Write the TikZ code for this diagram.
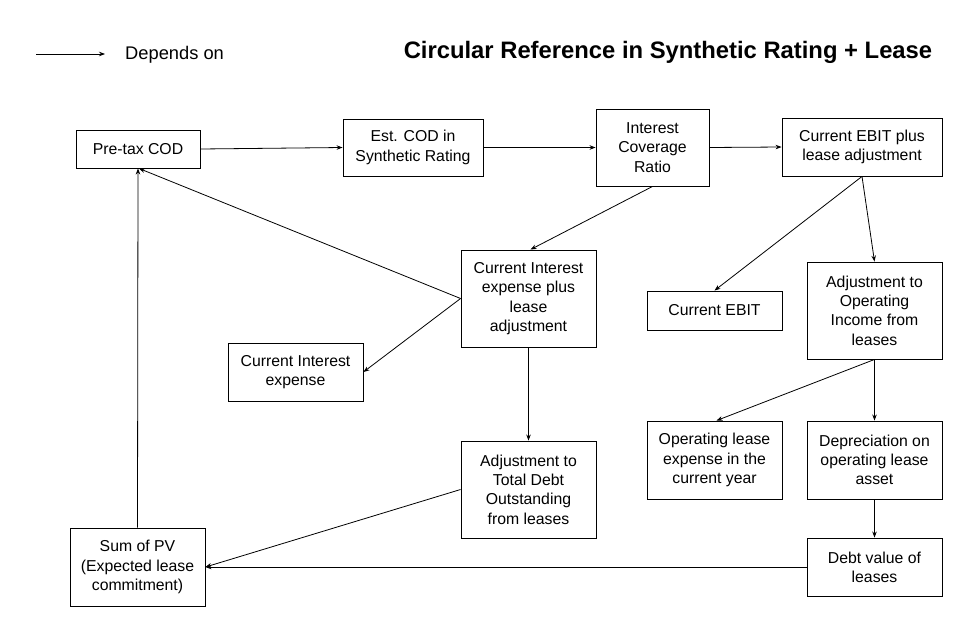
\documentclass[tikz,border=0pt]{standalone}
\usepackage{fontspec}
\setmainfont{Liberation Sans}
\usetikzlibrary{arrows.meta}
\begin{document}
\begin{tikzpicture}[x=1pt,y=-1pt,
  box/.style={draw=black,line width=0.9pt,rectangle,inner sep=0pt,align=center,
    font=\fontsize{15.8}{19.3}\selectfont},
  dep/.style={draw=black,line width=0.8pt,-{Stealth[length=6pt,width=4.5pt]}}]
\useasboundingbox[fill=white] (0,0) rectangle (958,635);
% legend and title
\coordinate (la) at (36,54);
\coordinate (lb) at (105,54);
\draw[dep] (la) -- (lb);
\node[font=\fontsize{18.3}{22}\selectfont,anchor=west,inner sep=0pt] (legend) at (125,55) {Depends on};
\node[font=\fontsize{23.8}{28}\selectfont\bfseries,inner sep=0pt] (title) at (668,52) {Circular Reference in Synthetic Rating + Lease};
% boxes
\node[box,minimum width=124,minimum height=38] (pretax) at (138,149) {Pre-tax COD};
\node[box,minimum width=140,minimum height=57] (estcod) at (413,147.5) {Est. COD in\\Synthetic Rating};
\node[box,minimum width=113,minimum height=77] (icr) at (652.5,147.5) {Interest\\Coverage\\Ratio};
\node[box,minimum width=160,minimum height=58] (ebitl) at (862,147) {Current EBIT plus\\lease adjustment};
\node[box,minimum width=135,minimum height=97] (ciepl) at (528.5,298.5) {Current Interest\\expense plus\\lease\\adjustment};
\node[box,minimum width=135,minimum height=39] (cebit) at (714.5,310.5) {Current EBIT};
\node[box,minimum width=135,minimum height=97] (adjoi) at (874.5,310.5) {Adjustment to\\Operating\\Income from\\leases};
\node[box,minimum width=135,minimum height=58] (cie) at (295.5,372) {Current Interest\\expense};
\node[box,minimum width=135,minimum height=97] (adjtd) at (528.5,489.5) {Adjustment to\\Total Debt\\Outstanding\\from leases};
\node[box,minimum width=135,minimum height=78] (olexp) at (714.5,460) {Operating lease\\expense in the\\current year};
\node[box,minimum width=135,minimum height=78] (depr) at (874.5,460) {Depreciation on\\operating lease\\asset};
\node[box,minimum width=135,minimum height=78] (sumpv) at (137.5,567) {Sum of PV\\(Expected lease\\commitment)};
\node[box,minimum width=135,minimum height=58] (debtv) at (874.5,567) {Debt value of\\leases};
% connectors
\draw[dep] (pretax.east) -- (estcod.west);
\draw[dep] (estcod.east) -- (icr.west);
\draw[dep] (icr.east) -- (ebitl.west);
\draw[dep] (icr.south) -- ([xshift=2pt]ciepl.north);
\draw[dep] (ebitl.south) -- (cebit.north);
\draw[dep] (ebitl.south) -- (adjoi.north);
\draw[dep] (ciepl.west) -- ([xshift=1pt]pretax.south);
\draw[dep] (ciepl.west) -- (cie.east);
\draw[dep] (ciepl.south) -- (adjtd.north);
\draw[dep] (adjoi.south) -- ([xshift=2pt]olexp.north);
\draw[dep] (adjoi.south) -- (depr.north);
\draw[dep] (depr.south) -- (debtv.north);
\draw[dep] (debtv.west) -- (sumpv.east);
\draw[dep] (adjtd.west) -- (sumpv.east);
\draw[dep] (sumpv.north) -- (pretax.south);
\end{tikzpicture}
\end{document}
